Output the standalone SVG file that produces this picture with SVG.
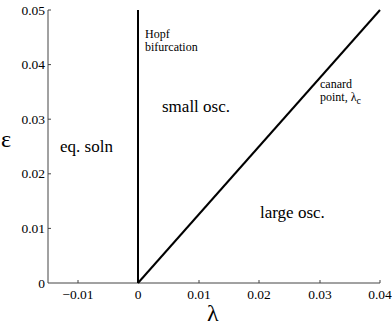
<svg xmlns="http://www.w3.org/2000/svg" width="392" height="327" viewBox="0 0 392 327">
<style>
text{font-family:"Liberation Serif","Times New Roman","DejaVu Serif",serif;fill:#000}
.ax{stroke:#444;stroke-width:1;fill:none}
.cv{stroke:#000;stroke-width:2;fill:none}
.tk{font-size:13.5px}
.lb{font-size:17px}
.sm{font-size:12px}
.big{font-size:24px}
</style>
<rect width="392" height="327" fill="#fff"/>
<g id="axes">
<path class="ax" d="M48,10V283H380"/>
<path class="ax" d="M48,10h3M48,64.6h3M48,119.2h3M48,173.8h3M48,228.4h3M78,283v-3M138,283v-3M199,283v-3M259,283v-3M320,283v-3M380,283v-3"/>
<g text-anchor="end">
<text class="tk" x="45" y="14.5">0.05</text>
<text class="tk" x="45" y="69">0.04</text>
<text class="tk" x="45" y="123.5">0.03</text>
<text class="tk" x="45" y="178">0.02</text>
<text class="tk" x="45" y="233">0.01</text>
<text class="tk" x="45" y="287.5">0</text>
</g>
<g text-anchor="middle">
<text class="tk" x="78" y="299">−0.01</text>
<text class="tk" x="138" y="299">0</text>
<text class="tk" x="199" y="299">0.01</text>
<text class="tk" x="259" y="299">0.02</text>
<text class="tk" x="320" y="299">0.03</text>
<text class="tk" x="380" y="299">0.04</text>
</g>
<text class="big" x="1" y="147">ε</text>
<text class="big" x="207" y="321">λ</text>
</g>
<g id="connectors">
<path class="cv" d="M138,10V283"/>
<path class="cv" d="M138,283L380,10"/>
</g>
<g id="labels">
<text class="sm" x="145" y="38">Hopf</text>
<text class="sm" x="145" y="51">bifurcation</text>
<text class="sm" x="320" y="87.5">canard</text>
<text class="sm" x="320" y="100.5">point, λ<tspan font-size="10" dy="3">c</tspan></text>
<text class="lb" x="162" y="112">small osc.</text>
<text class="lb" x="60" y="152">eq. soln</text>
<text class="lb" x="260" y="218">large osc.</text>
</g>
</svg>
